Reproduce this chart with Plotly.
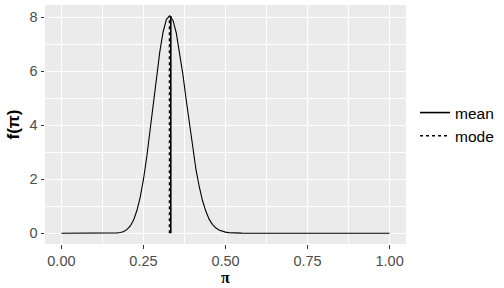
import plotly.graph_objects as go

# density curve (pi, f(pi))
pi_vals = [0.00, 0.05, 0.10, 0.14, 0.15, 0.16, 0.17, 0.18, 0.19, 0.20, 0.21, 0.22, 0.23, 0.24,
           0.25, 0.26, 0.27, 0.28, 0.29, 0.30, 0.31, 0.32, 0.33, 0.34, 0.35, 0.36,
           0.37, 0.38, 0.39, 0.40, 0.41, 0.42, 0.43, 0.44, 0.45, 0.46, 0.47, 0.48,
           0.49, 0.50, 0.51, 0.52, 0.53, 0.54, 0.55, 0.60, 0.70, 0.80, 0.90, 1.00]
dens = [0.0, 0.0, 0.0, 0.0005, 0.0012, 0.004, 0.011, 0.028, 0.065, 0.14, 0.27, 0.49, 0.84, 1.33,
        1.99, 2.82, 3.77, 4.80, 5.82, 6.73, 7.46, 7.92, 8.05, 7.88, 7.42, 6.73,
        5.89, 4.96, 4.03, 3.12, 2.36, 1.72, 1.20, 0.82, 0.52, 0.33, 0.20, 0.12,
        0.07, 0.04, 0.021, 0.011, 0.006, 0.003, 0.0013, 0.0, 0.0, 0.0, 0.0, 0.0]

mean_x = 0.3333
mean_y = 8.04
mode_x = 0.3295
mode_y = 8.05

x_ticks = [0.0, 0.25, 0.5, 0.75, 1.0]
x_labels = ["0.00", "0.25", "0.50", "0.75", "1.00"]
x_minor = [0.125, 0.375, 0.625, 0.875]
y_ticks = [0, 2, 4, 6, 8]
y_minor = [1, 3, 5, 7]

fig = go.Figure()
fig.add_trace(go.Scatter(x=pi_vals, y=dens, mode="lines",
                         line=dict(color="black", width=1.1), showlegend=False,
                         hoverinfo="skip"))
fig.add_trace(go.Scatter(x=[mean_x, mean_x], y=[0, mean_y], mode="lines", name="mean",
                         line=dict(color="black", width=1.6, dash="solid")))
fig.add_trace(go.Scatter(x=[mode_x, mode_x], y=[0, mode_y], mode="lines", name="mode",
                         line=dict(color="black", width=1.6, dash="3px,3px")))

axis_common = dict(showgrid=True, gridcolor="white", gridwidth=1.4, zeroline=False,
                   ticks="outside", ticklen=3.5, tickcolor="#333333", tickwidth=1,
                   tickfont=dict(family="Liberation Sans, Arial", size=14.5, color="#4D4D4D"),
                   showline=False, automargin=False)

fig.update_xaxes(range=[-0.05, 1.05], tickvals=x_ticks, ticktext=x_labels,
                 minor=dict(tickvals=x_minor, showgrid=True, gridcolor="white", gridwidth=0.7, ticks=""),
                 **axis_common)
fig.update_yaxes(range=[-0.4, 8.45], tickvals=y_ticks,
                 minor=dict(tickvals=y_minor, showgrid=True, gridcolor="white", gridwidth=0.7, ticks=""),
                 title=dict(text="<b>f(π)</b>", font=dict(family="Liberation Sans, Arial", size=17, color="black"), standoff=5),
                 **axis_common)

fig.add_annotation(text="<b>π</b>", xref="paper", yref="paper", x=0.5, y=-0.14,
                   xanchor="center", yanchor="middle", showarrow=False,
                   font=dict(family="Liberation Serif, Times New Roman", size=16, color="black"))

fig.update_layout(
    width=504, height=288,
    margin=dict(l=45, r=95, t=5, b=44),
    plot_bgcolor="#EBEBEB", paper_bgcolor="white",
    font=dict(family="Liberation Sans, Arial", size=15.5, color="black"),
    legend=dict(x=1.025, y=0.5, xanchor="left", yanchor="middle",
                font=dict(size=15.5, color="black"), itemwidth=30,
                tracegroupgap=0, bgcolor="rgba(0,0,0,0)"),
)

fig.write_html("out.html")
